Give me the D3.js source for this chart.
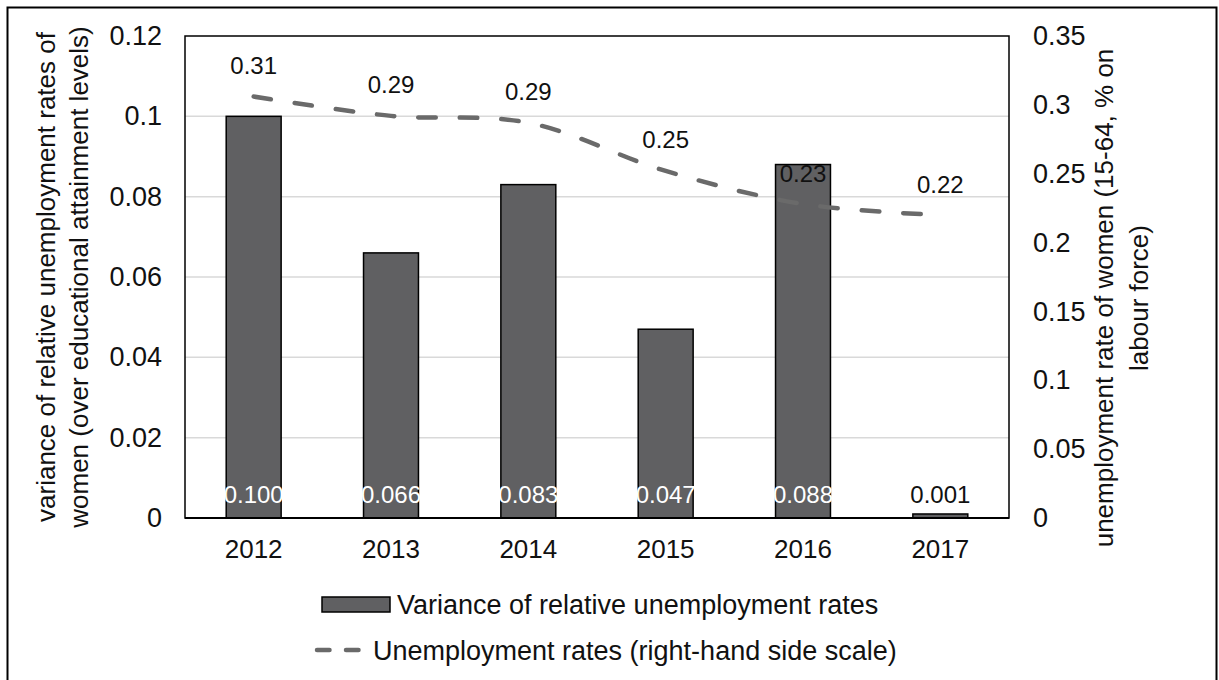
<!DOCTYPE html>
<html>
<head>
<meta charset="utf-8">
<script src="https://cdn.jsdelivr.net/npm/d3@7"></script>
<style>
  html, body { margin: 0; padding: 0; background: #fff; }
  svg { display: block; font-family: "Liberation Sans", Arial, sans-serif; }
</style>
</head>
<body>
<svg id="chart" width="1219" height="680"></svg>
<script>
// Years on the category axis
const years = ["2012", "2013", "2014", "2015", "2016", "2017"];
// Variance of relative unemployment rates of women (bars, left scale)
const varianceValues = [0.100, 0.066, 0.083, 0.047, 0.088, 0.001];
// Unemployment rate of women, 15-64 (dashed line, right scale)
const unemploymentValues = [0.306, 0.292, 0.287, 0.252, 0.228, 0.220];
// Axis ticks
const leftTicks = [0, 0.02, 0.04, 0.06, 0.08, 0.1, 0.12];
const leftTickLabels = ["0", "0.02", "0.04", "0.06", "0.08", "0.1", "0.12"];
const rightTicks = [0, 0.05, 0.1, 0.15, 0.2, 0.25, 0.3, 0.35];
const rightTickLabels = ["0", "0.05", "0.1", "0.15", "0.2", "0.25", "0.3", "0.35"];
// Series names
const seriesNames = ["Variance of relative unemployment rates", "Unemployment rates (right-hand side scale)"];

const svg = d3.select("#chart");
const plot = { left: 185, right: 1009, top: 36, bottom: 518 };
const barColor = "#606062";
const lineColor = "#6a6a6a";
const textColor = "#111";

// outer frame
svg.append("rect")
  .attr("x", 7.5).attr("y", 7.5).attr("width", 1209).attr("height", 700)
  .attr("fill", "none").attr("stroke", "#000").attr("stroke-width", 2);

const x = d3.scaleBand().domain(years).range([plot.left, plot.right]).paddingInner(0.6).paddingOuter(0.3);
const yLeft = d3.scaleLinear().domain([0, 0.12]).range([plot.bottom, plot.top]);
const yRight = d3.scaleLinear().domain([0, 0.35]).range([plot.bottom, plot.top]);

// gridlines
svg.append("g").selectAll("line")
  .data(leftTicks.filter(t => t > 0 && t < 0.12))
  .join("line")
  .attr("x1", plot.left).attr("x2", plot.right)
  .attr("y1", d => yLeft(d)).attr("y2", d => yLeft(d))
  .attr("stroke", "#d9d9d9").attr("stroke-width", 1.5);

// bars
svg.append("g").selectAll("rect")
  .data(years.map((y, i) => ({ year: y, v: varianceValues[i] })))
  .join("rect")
  .attr("x", d => x(d.year))
  .attr("y", d => yLeft(d.v))
  .attr("width", x.bandwidth())
  .attr("height", d => plot.bottom - yLeft(d.v))
  .attr("fill", barColor)
  .attr("stroke", "#000").attr("stroke-width", 1.5);

// plot frame
svg.append("rect")
  .attr("x", plot.left).attr("y", plot.top)
  .attr("width", plot.right - plot.left).attr("height", plot.bottom - plot.top)
  .attr("fill", "none").attr("stroke", "#000").attr("stroke-width", 1.5);
svg.append("line")
  .attr("x1", plot.left).attr("x2", plot.right)
  .attr("y1", plot.bottom).attr("y2", plot.bottom)
  .attr("stroke", "#000").attr("stroke-width", 2);

// bar value labels (inside base)
svg.append("g").selectAll("text")
  .data(years.map((y, i) => ({ year: y, v: varianceValues[i] })))
  .join("text")
  .attr("x", d => x(d.year) + x.bandwidth() / 2)
  .attr("y", plot.bottom - 15.5)
  .attr("text-anchor", "middle")
  .attr("font-size", 24)
  .attr("fill", d => (plot.bottom - yLeft(d.v)) > 30 ? "#fff" : textColor)
  .text(d => d3.format(".3f")(d.v));

// dashed smoothed line
const cx = d => x(d.year) + x.bandwidth() / 2;
const lineData = years.map((y, i) => ({ year: y, v: unemploymentValues[i] }));
svg.append("path")
  .datum(lineData)
  .attr("d", d3.line().x(cx).y(d => yRight(d.v)).curve(d3.curveCatmullRom.alpha(0.5)))
  .attr("fill", "none")
  .attr("stroke", lineColor)
  .attr("stroke-width", 4.5)
  .attr("stroke-linecap", "round")
  .attr("stroke-dasharray", "17.5,24");

// line value labels
svg.append("g").selectAll("text")
  .data(lineData)
  .join("text")
  .attr("x", cx)
  .attr("y", d => yRight(d.v) - 22.5)
  .attr("text-anchor", "middle")
  .attr("font-size", 24)
  .attr("fill", textColor)
  .text(d => d3.format(".2f")(d.v));

// axes
const leftAxis = d3.axisLeft(yLeft).tickValues(leftTicks).tickSize(0).tickPadding(23)
  .tickFormat((d, i) => leftTickLabels[i]);
const gL = svg.append("g").attr("transform", `translate(${plot.left},0)`).call(leftAxis);
const rightAxis = d3.axisRight(yRight).tickValues(rightTicks).tickSize(0).tickPadding(24)
  .tickFormat((d, i) => rightTickLabels[i]);
const gR = svg.append("g").attr("transform", `translate(${plot.right},0)`).call(rightAxis);
const bottomAxis = d3.axisBottom(x).tickSize(0).tickPadding(22);
const gB = svg.append("g").attr("transform", `translate(0,${plot.bottom})`).call(bottomAxis);
[gL, gR, gB].forEach(g => {
  g.select(".domain").remove();
  g.selectAll("text").attr("font-size", 27).attr("fill", textColor)
    .attr("font-family", "'Liberation Sans', Arial, sans-serif");
});
gB.selectAll("text").attr("font-size", 26);

// axis titles
const leftTitle = ["variance of relative unemployment rates of", "women (over educational attainment levels)"];
svg.append("g").selectAll("text")
  .data(leftTitle).join("text")
  .attr("transform", (d, i) => `translate(${55 + i * 33},277) rotate(-90)`)
  .attr("text-anchor", "middle").attr("font-size", 26).attr("fill", textColor)
  .text(d => d);
const rightTitle = ["unemployment rate of women (15-64, % on", "labour force)"];
svg.append("g").selectAll("text")
  .data(rightTitle).join("text")
  .attr("transform", (d, i) => `translate(${1113 + i * 35},298) rotate(-90)`)
  .attr("text-anchor", "middle").attr("font-size", 26).attr("fill", textColor)
  .text(d => d);

// legend
const lg = svg.append("g");
lg.append("rect").attr("x", 322).attr("y", 597).attr("width", 68).attr("height", 15)
  .attr("fill", barColor).attr("stroke", "#000").attr("stroke-width", 1.5);
lg.append("text").attr("x", 397).attr("y", 613.5).attr("font-size", 27).attr("fill", textColor)
  .text(seriesNames[0]);
lg.append("line").attr("x1", 317).attr("x2", 362).attr("y1", 650).attr("y2", 650)
  .attr("stroke", lineColor).attr("stroke-width", 4.5).attr("stroke-linecap", "round")
  .attr("stroke-dasharray", "12.5,16.5");
lg.append("text").attr("x", 373).attr("y", 659.5).attr("font-size", 27).attr("fill", textColor)
  .text(seriesNames[1]);
</script>
</body>
</html>
